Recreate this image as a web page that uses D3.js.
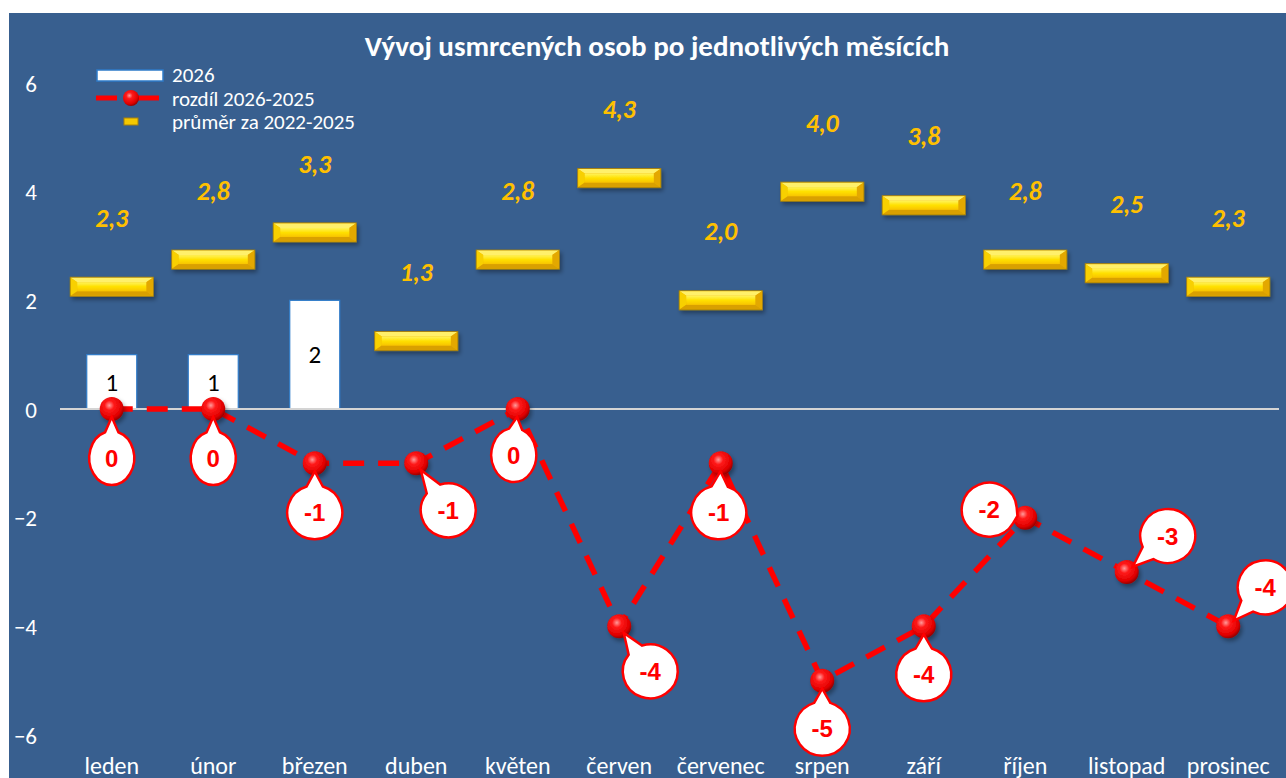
<!DOCTYPE html>
<html>
<head>
<meta charset="utf-8">
<script src="https://cdn.jsdelivr.net/npm/d3@7"></script>
<style>
  html, body { margin: 0; padding: 0; background: #ffffff; }
  svg { display: block; }
  text { font-family: Carlito, Lato, "Open Sans", sans-serif; }
</style>
</head>
<body>
<svg id="chart" width="1286" height="778"></svg>
<script>
// ---------- data ----------
const months = ["leden","únor","březen","duben","květen","červen","červenec","srpen","září","říjen","listopad","prosinec"];
const values2026 = [1, 1, 2, null, null, null, null, null, null, null, null, null];
const diff2026_2025 = [0, 0, -1, -1, 0, -4, -1, -5, -4, -2, -3, -4];
const avg2022_2025 = [2.25, 2.75, 3.25, 1.25, 2.75, 4.25, 2.0, 4.0, 3.75, 2.75, 2.5, 2.25];
const yTicks = [-6, -4, -2, 0, 2, 4, 6];
const titleText = "Vývoj usmrcených osob po jednotlivých měsících";
const legendLabels = ["2026", "rozdíl 2026-2025", "průměr za 2022-2025"];
// callout placement (pixel offsets of label bubble from its point)
const calloutOffsets = [[0,49],[0,49],[0,49],[32,47],[-4,46],[31,45],[-2,49],[0,48],[0,48],[-36,-8],[41,-36],[37,-39]];

// ---------- setup ----------
const W = 1286, H = 778;
const svg = d3.select("#chart");
const defs = svg.append("defs");

const blue = "#385f8f";
svg.append("rect").attr("x", 9).attr("y", 13).attr("width", W - 9).attr("height", H - 13).attr("fill", blue);

const x = d3.scaleBand().domain(months).range([61, 1279]).padding(0);
const y = d3.scaleLinear().domain([-6, 6]).range([735, 83]);
const cx = m => x(m) + x.bandwidth() / 2;

// gradients
const sphere = defs.append("radialGradient").attr("id", "sphere").attr("cx", "40%").attr("cy", "35%").attr("r", "65%");
sphere.append("stop").attr("offset", "0%").attr("stop-color", "#ff9a9a");
sphere.append("stop").attr("offset", "30%").attr("stop-color", "#ff1a1a");
sphere.append("stop").attr("offset", "80%").attr("stop-color", "#e00000");
sphere.append("stop").attr("offset", "100%").attr("stop-color", "#9a0000");

const gold = defs.append("linearGradient").attr("id", "gold").attr("x1", 0).attr("y1", 0).attr("x2", 0).attr("y2", 1);
gold.append("stop").attr("offset", "0%").attr("stop-color", "#fff35a");
gold.append("stop").attr("offset", "50%").attr("stop-color", "#ffe000");
gold.append("stop").attr("offset", "100%").attr("stop-color", "#f8c400");

const shadow = defs.append("filter").attr("id", "shadow").attr("x", "-20%").attr("y", "-40%").attr("width", "140%").attr("height", "200%");
shadow.append("feDropShadow").attr("dx", 2).attr("dy", 3).attr("stdDeviation", 2).attr("flood-color", "#000").attr("flood-opacity", 0.35);

// ---------- title ----------
svg.append("text").attr("x", 657).attr("y", 56).attr("text-anchor", "middle")
  .attr("fill", "#ffffff").attr("font-weight", "bold").attr("font-size", 29).text(titleText);

// ---------- y axis ----------
const yAxis = svg.append("g").attr("transform", "translate(37,0)")
  .call(d3.axisLeft(y).tickValues(yTicks).tickSize(0).tickPadding(0).tickFormat(d3.format("d")));
yAxis.select(".domain").remove();
yAxis.selectAll("text").attr("fill", "#ffffff").attr("font-size", 23)
  .style("font-family", "Carlito, Lato, sans-serif").attr("dy", "0.35em");

// ---------- x axis ----------
const xAxis = svg.append("g").attr("transform", "translate(0,757)")
  .call(d3.axisBottom(x).tickSize(0).tickPadding(0));
xAxis.select(".domain").remove();
xAxis.selectAll("text").attr("fill", "#ffffff").attr("font-size", 24)
  .style("font-family", "Carlito, Lato, sans-serif");

// ---------- 2026 bars ----------
const barW = 50;
const bars = months.map((m, i) => ({ m, v: values2026[i] })).filter(d => d.v != null);
svg.append("g").selectAll("rect").data(bars).join("rect")
  .attr("x", d => cx(d.m) - barW / 2).attr("width", barW)
  .attr("y", d => y(d.v)).attr("height", d => y(0) - y(d.v))
  .attr("fill", "#ffffff").attr("stroke", "#2e7bc9").attr("stroke-width", 1.2);
svg.append("g").selectAll("text").data(bars).join("text")
  .attr("x", d => cx(d.m)).attr("y", d => (y(d.v) + y(0)) / 2).attr("dy", "0.35em")
  .attr("text-anchor", "middle").attr("font-size", 25).attr("fill", "#000").text(d => d.v);

// ---------- average markers ----------
const avgW = 83, avgH = 19;
const avgData = months.map((m, i) => ({ m, v: avg2022_2025[i] }));
const ag = svg.append("g").selectAll("g").data(avgData).join("g")
  .attr("transform", d => `translate(${cx(d.m) - avgW / 2},${y(d.v) - avgH / 2})`)
  .attr("filter", "url(#shadow)");
ag.append("rect").attr("width", avgW).attr("height", avgH).attr("fill", "#f2b800").attr("stroke", "#a9820a").attr("stroke-width", 1);
ag.append("polygon").attr("points", `0.5,0.5 ${avgW-0.5},0.5 ${avgW-7},5 7,5`).attr("fill", "#fff06a");
ag.append("polygon").attr("points", `0.5,0.5 7,5 7,${avgH-5} 0.5,${avgH-0.5}`).attr("fill", "#f8d000");
ag.append("polygon").attr("points", `${avgW-0.5},0.5 ${avgW-7},5 ${avgW-7},${avgH-5} ${avgW-0.5},${avgH-0.5}`).attr("fill", "#e3a800");
ag.append("polygon").attr("points", `0.5,${avgH-0.5} 7,${avgH-5} ${avgW-7},${avgH-5} ${avgW-0.5},${avgH-0.5}`).attr("fill", "#d9a000");
ag.append("rect").attr("x", 7).attr("y", 5).attr("width", avgW - 14).attr("height", avgH - 10).attr("fill", "url(#gold)");

const fmt1 = v => d3.format(".1f")(v).replace(".", ",");
svg.append("g").selectAll("text").data(avgData).join("text")
  .attr("x", d => cx(d.m)).attr("y", d => y(d.v) - 69).attr("dy", "0.35em")
  .attr("text-anchor", "middle").attr("font-size", 26).attr("font-weight", "bold").attr("font-style", "italic")
  .attr("fill", "#ffc000").text(d => fmt1(d.v));

// ---------- zero line ----------
svg.append("line").attr("x1", 60).attr("x2", 1279).attr("y1", y(0)).attr("y2", y(0))
  .attr("stroke", "#d4d4d4").attr("stroke-width", 2.2);

// ---------- difference line ----------
const diffData = months.map((m, i) => ({ m, v: diff2026_2025[i], off: calloutOffsets[i] }));
const line = d3.line().x(d => cx(d.m)).y(d => y(d.v));
svg.append("path").datum(diffData).attr("d", line).attr("fill", "none")
  .attr("stroke", "#ff0000").attr("stroke-width", 5.5).attr("stroke-dasharray", "21,14");

svg.append("g").selectAll("circle").data(diffData).join("circle")
  .attr("cx", d => cx(d.m)).attr("cy", d => y(d.v)).attr("r", 12)
  .attr("fill", "url(#sphere)").attr("filter", "url(#shadow)");

// ---------- callouts ----------
const cg = svg.append("g").selectAll("g").data(diffData).join("g");
cg.each(function(d) {
  const g = d3.select(this);
  const px = cx(d.m), py = y(d.v);
  const bx = px + d.off[0], by = py + d.off[1];
  const txt = String(d.v);
  const rx = txt.length > 1 ? 27.5 : 22.5, ry = 27;
  const phi = Math.atan2(py - by, px - bx);           // from bubble centre towards point
  const tipX = px - Math.cos(phi) * 8, tipY = py - Math.sin(phi) * 8;
  const delta = 0.3;
  const P = t => [bx + rx * Math.cos(t), by + ry * Math.sin(t)];
  const p1 = P(phi - delta), p2 = P(phi + delta);
  const p = d3.path();
  p.moveTo(tipX, tipY);
  p.lineTo(p1[0], p1[1]);
  const pathStr = p.toString() + `A${rx},${ry} 0 1 0 ${p2[0]},${p2[1]}Z`;
  g.append("path").attr("d", pathStr).attr("fill", "#fff").attr("stroke", "#ff0000")
    .attr("stroke-width", 2.5).attr("stroke-linejoin", "miter");
  g.append("text").attr("x", bx).attr("y", by).attr("dy", "0.36em").attr("text-anchor", "middle")
    .attr("fill", "#ff0000").attr("font-size", 24).attr("font-weight", "bold")
    .style("font-family", "'Liberation Sans', Arial, sans-serif").text(txt);
});

// ---------- legend ----------
const lg = svg.append("g");
lg.append("rect").attr("x", 97).attr("y", 70).attr("width", 66).attr("height", 11)
  .attr("fill", "#fff").attr("stroke", "#2e7bc9").attr("stroke-width", 1.5);
lg.append("line").attr("x1", 96).attr("x2", 117).attr("y1", 98).attr("y2", 98).attr("stroke", "#ff0000").attr("stroke-width", 5);
lg.append("line").attr("x1", 138).attr("x2", 159).attr("y1", 98).attr("y2", 98).attr("stroke", "#ff0000").attr("stroke-width", 5);
lg.append("circle").attr("cx", 131).attr("cy", 98).attr("r", 8).attr("fill", "url(#sphere)");
lg.append("rect").attr("x", 124).attr("y", 118).attr("width", 14).attr("height", 7)
  .attr("fill", "#f5c800").attr("stroke", "#a9820a").attr("stroke-width", 1);
lg.selectAll("text.lt").data(legendLabels).join("text").attr("class", "lt")
  .attr("x", 172).attr("y", (d, i) => 75 + i * 23.5).attr("dy", "0.35em")
  .attr("fill", "#fff").attr("font-size", 21).text(d => d);
</script>
</body>
</html>
